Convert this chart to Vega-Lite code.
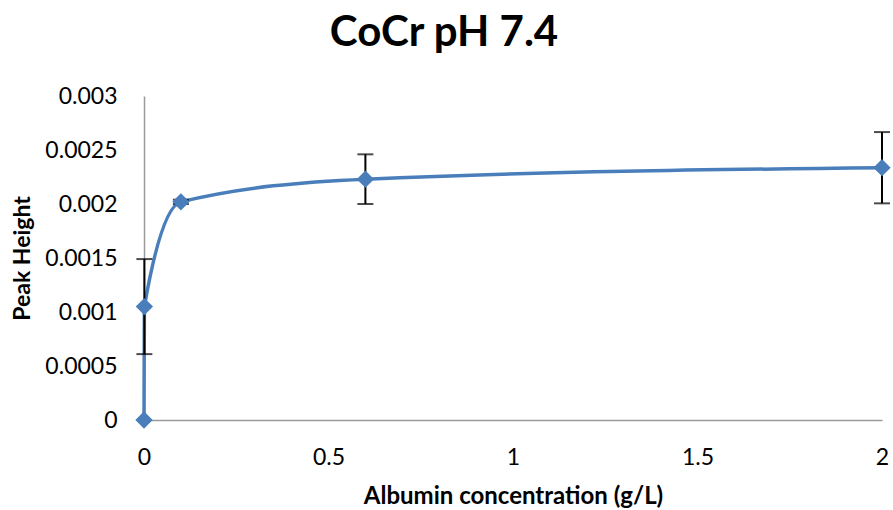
{
  "$schema": "https://vega.github.io/schema/vega-lite/v6.json",
  "autosize": "none",
  "width": 738,
  "height": 324,
  "padding": {"left": 144, "top": 96, "right": 11, "bottom": 90},
  "background": "white",
  "title": {
    "text": "CoCr pH 7.4",
    "font": "Lato",
    "fontSize": 42,
    "fontWeight": "bold",
    "color": "black",
    "anchor": "middle",
    "dx": -69,
    "baseline": "alphabetic",
    "offset": -3
  },
  "config": {
    "view": {"stroke": null},
    "axis": {
      "labelFont": "Lato",
      "labelFontSize": 23,
      "labelColor": "black",
      "titleFont": "Lato",
      "titleFontWeight": "bold",
      "titleColor": "black",
      "domainColor": "#9a9a9a",
      "domainWidth": 1.5,
      "ticks": false,
      "grid": false
    }
  },
  "data": {
    "values": [
      {"conc": 0, "peak": 0, "err": null},
      {"conc": 0.001, "peak": 0.00105, "err": 0.00044},
      {"conc": 0.1, "peak": 0.00202, "err": 0.00002},
      {"conc": 0.6, "peak": 0.00223, "err": 0.00023},
      {"conc": 2, "peak": 0.002336, "err": 0.00033}
    ]
  },
  "encoding": {
    "x": {
      "field": "conc",
      "type": "quantitative",
      "title": "Albumin concentration (g/L)",
      "scale": {"domain": [0, 2], "nice": false, "zero": true},
      "axis": {"values": [0, 0.5, 1, 1.5, 2], "format": "~g", "labelPadding": 26, "titlePadding": 15, "titleFontSize": 24, "labelFlush": false}
    },
    "y": {
      "field": "peak",
      "type": "quantitative",
      "title": "Peak Height",
      "scale": {"domain": [0, 0.003], "nice": false},
      "axis": {"values": [0, 0.0005, 0.001, 0.0015, 0.002, 0.0025, 0.003], "format": "~g", "labelPadding": 27, "titlePadding": 10, "titleFontSize": 23, "labelFlush": false}
    }
  },
  "layer": [
    {
      "mark": {"type": "line", "interpolate": "monotone", "color": "#4A7EBB", "strokeWidth": 3.5, "clip": false}
    },
    {
      "transform": [{"filter": "datum.err != null"}],
      "mark": {"type": "errorbar", "color": "black", "thickness": 2, "ticks": {"size": 16, "thickness": 2, "color": "black"}},
      "encoding": {
        "yError": {"field": "err"}
      }
    },
    {
      "mark": {"type": "point", "shape": "diamond", "filled": true, "size": 300, "color": "#4A7EBB", "opacity": 1, "clip": false}
    }
  ]
}
